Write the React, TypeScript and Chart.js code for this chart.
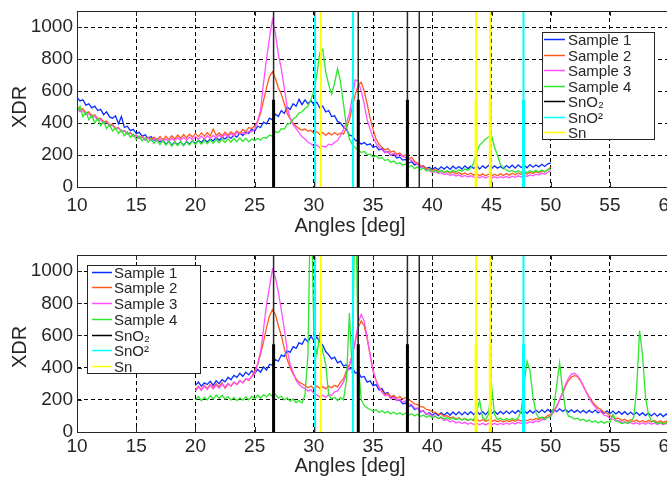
import React, { useEffect, useRef } from 'react';
import { Chart, registerables } from 'chart.js';
Chart.register(...registerables);

const FONT = '"Liberation Sans", Arial, Helvetica, sans-serif';
const TEXT = '#262626';

// ---------- Data: top panel (angles in degrees, XDR counts) ----------
const topAngles = [
  10, 10.25, 10.5, 10.75, 11, 11.25, 11.5, 11.75, 12, 12.25, 12.5, 12.75,
  13, 13.25, 13.5, 13.75, 14, 14.25, 14.5, 14.75, 15, 15.25, 15.5, 15.75,
  16, 16.25, 16.5, 16.75, 17, 17.25, 17.5, 17.75, 18, 18.25, 18.5, 18.75,
  19, 19.25, 19.5, 19.75, 20, 20.25, 20.5, 20.75, 21, 21.25, 21.5, 21.75,
  22, 22.25, 22.5, 22.75, 23, 23.25, 23.5, 23.75, 24, 24.25, 24.5, 24.75,
  25, 25.25, 25.5, 25.75, 26, 26.25, 26.5, 26.75, 27, 27.25, 27.5, 27.75,
  28, 28.25, 28.5, 28.75, 29, 29.25, 29.5, 29.75, 30, 30.25, 30.5, 30.75,
  31, 31.25, 31.5, 31.75, 32, 32.25, 32.5, 32.75, 33, 33.25, 33.5, 33.75,
  34, 34.25, 34.5, 34.75, 35, 35.25, 35.5, 35.75, 36, 36.25, 36.5, 36.75,
  37, 37.25, 37.5, 37.75, 38, 38.25, 38.5, 38.75, 39, 39.25, 39.5, 39.75,
  40, 40.25, 40.5, 40.75, 41, 41.25, 41.5, 41.75, 42, 42.25, 42.5, 42.75,
  43, 43.25, 43.5, 43.75, 44, 44.25, 44.5, 44.75, 45, 45.25, 45.5, 45.75,
  46, 46.25, 46.5, 46.75, 47, 47.25, 47.5, 47.75, 48, 48.25, 48.5, 48.75,
  49, 49.25, 49.5, 49.75, 50,
];

const sample1Top = [
  560, 538, 545, 512, 520, 495, 505, 478, 485, 452, 470, 438,
  430, 445, 395, 440, 372, 380, 352, 360, 335, 342, 318, 326,
  305, 315, 292, 300, 282, 292, 268, 285, 262, 280, 265, 282,
  260, 284, 268, 290, 272, 292, 278, 298, 282, 300, 288, 310,
  292, 312, 300, 318, 305, 325, 312, 338, 322, 345, 335, 362,
  350, 380, 372, 405, 395, 430, 420, 455, 440, 478, 460, 500,
  485, 520, 505, 548, 515, 545, 520, 540, 515, 530, 495, 505,
  470, 478, 440, 445, 410, 400, 375, 360, 325, 318, 292, 285,
  268, 278, 262, 270, 248, 255, 232, 240, 215, 222, 198, 205,
  182, 188, 168, 172, 150, 158, 138, 145, 125, 132, 115, 124,
  110, 122, 108, 126, 112, 128, 110, 130, 114, 128, 112, 132,
  115, 130, 116, 134, 112, 132, 118, 136, 114, 132, 118, 128,
  115, 134, 120, 136, 118, 138, 122, 136, 120, 140, 124, 138,
  126, 142, 128, 145, 150,
];

const sample2Top = [
  505, 480, 490, 462, 470, 445, 452, 425, 430, 405, 412, 388,
  392, 365, 372, 348, 352, 332, 340, 318, 325, 305, 318, 298,
  310, 295, 312, 292, 315, 295, 318, 298, 320, 300, 325, 305,
  328, 308, 330, 312, 335, 315, 338, 318, 340, 318, 362, 322,
  338, 320, 342, 325, 345, 328, 350, 335, 358, 345, 372, 365,
  380, 410, 460, 540, 620, 690, 720, 680, 620, 580, 520, 460,
  425, 400, 380, 365, 355, 362, 348, 355, 335, 345, 328, 340,
  322, 338, 325, 340, 325, 338, 330, 370, 420, 500, 580, 635,
  655, 600, 520, 430, 360, 300, 268, 248, 232, 240, 218, 225,
  205, 212, 192, 200, 178, 185, 160, 150, 135, 128, 118, 112,
  105, 110, 96, 104, 90, 98, 86, 94, 82, 90, 78, 88,
  76, 86, 74, 84, 72, 82, 70, 80, 68, 80, 70, 82,
  72, 84, 74, 86, 76, 88, 78, 90, 80, 92, 84, 96,
  88, 100, 94, 108, 125,
];

const sample3Top = [
  490, 470, 478, 452, 458, 435, 442, 418, 420, 398, 405, 380,
  385, 362, 368, 345, 350, 330, 338, 315, 322, 302, 312, 292,
  305, 288, 302, 285, 300, 284, 302, 286, 305, 288, 308, 292,
  310, 292, 312, 295, 315, 298, 318, 300, 320, 302, 322, 305,
  325, 308, 330, 312, 335, 318, 342, 330, 340, 332, 348, 345,
  360, 410, 480, 650, 800, 930, 1045, 960, 830, 740, 620, 500,
  430, 390, 365, 340, 315, 300, 280, 270, 255, 262, 245, 255,
  250, 268, 262, 280, 290, 320, 360, 400, 460, 560, 670, 660,
  600, 520, 420, 360, 310, 272, 250, 232, 215, 220, 200, 210,
  195, 205, 190, 185, 175, 165, 150, 142, 128, 118, 108, 100,
  92, 96, 84, 90, 78, 84, 72, 80, 68, 76, 64, 72,
  62, 70, 60, 68, 58, 66, 56, 64, 55, 64, 56, 65,
  58, 66, 58, 68, 60, 70, 62, 72, 66, 76, 70, 80,
  74, 86, 80, 92, 105,
];

const sample4Top = [
  470, 505, 440, 470, 420, 450, 400, 430, 385, 410, 365, 390,
  350, 372, 335, 355, 320, 345, 310, 330, 298, 318, 288, 308,
  280, 300, 272, 295, 265, 290, 262, 285, 255, 282, 258, 285,
  260, 282, 262, 288, 265, 290, 268, 292, 270, 295, 272, 298,
  275, 300, 278, 302, 280, 305, 282, 308, 285, 305, 282, 300,
  290, 305, 292, 310, 305, 325, 318, 345, 340, 365, 362, 392,
  400, 425, 438, 462, 470, 490, 505, 545, 600, 700, 840, 860,
  720, 640, 580, 650, 740, 660, 520, 380, 300, 265, 245, 232,
  215, 222, 200, 205, 188, 195, 178, 185, 165, 172, 155, 162,
  145, 152, 136, 144, 125, 134, 115, 126, 108, 120, 100, 112,
  94, 106, 92, 104, 90, 102, 92, 104, 94, 108, 98, 112,
  105, 118, 150, 215, 262, 280, 300, 312, 325, 250, 200, 140,
  120, 108, 96, 104, 92, 102, 90, 100, 90, 102, 92, 104,
  94, 106, 95, 108, 112,
];

// ---------- Data: bottom panel ----------
const bottomAngles = [
  20, 20.25, 20.5, 20.75, 21, 21.25, 21.5, 21.75, 22, 22.25, 22.5, 22.75,
  23, 23.25, 23.5, 23.75, 24, 24.25, 24.5, 24.75, 25, 25.25, 25.5, 25.75,
  26, 26.25, 26.5, 26.75, 27, 27.25, 27.5, 27.75, 28, 28.25, 28.5, 28.75,
  29, 29.25, 29.5, 29.75, 30, 30.25, 30.5, 30.75, 31, 31.25, 31.5, 31.75,
  32, 32.25, 32.5, 32.75, 33, 33.25, 33.5, 33.75, 34, 34.25, 34.5, 34.75,
  35, 35.25, 35.5, 35.75, 36, 36.25, 36.5, 36.75, 37, 37.25, 37.5, 37.75,
  38, 38.25, 38.5, 38.75, 39, 39.25, 39.5, 39.75, 40, 40.25, 40.5, 40.75,
  41, 41.25, 41.5, 41.75, 42, 42.25, 42.5, 42.75, 43, 43.25, 43.5, 43.75,
  44, 44.25, 44.5, 44.75, 45, 45.25, 45.5, 45.75, 46, 46.25, 46.5, 46.75,
  47, 47.25, 47.5, 47.75, 48, 48.25, 48.5, 48.75, 49, 49.25, 49.5, 49.75,
  50, 50.25, 50.5, 50.75, 51, 51.25, 51.5, 51.75, 52, 52.25, 52.5, 52.75,
  53, 53.25, 53.5, 53.75, 54, 54.25, 54.5, 54.75, 55, 55.25, 55.5, 55.75,
  56, 56.25, 56.5, 56.75, 57, 57.25, 57.5, 57.75, 58, 58.25, 58.5, 58.75,
  59, 59.25, 59.5, 59.75, 60, 60.25, 60.5, 60.75, 61,
];

const sample1Bottom = [
  290, 310, 285, 305, 295, 315, 290, 318, 300, 325, 312, 340,
  325, 352, 340, 365, 345, 372, 355, 380, 362, 390, 372, 405,
  385, 420, 415, 450, 440, 478, 470, 505, 495, 530, 520, 555,
  545, 580, 560, 595, 570, 590, 560, 540, 500, 480, 455, 465,
  430, 440, 410, 418, 390, 400, 365, 372, 340, 345, 310, 318,
  288, 295, 262, 270, 238, 245, 215, 222, 195, 200, 175, 180,
  158, 165, 140, 148, 125, 132, 110, 120, 104, 118, 102, 120,
  104, 122, 104, 124, 106, 125, 106, 124, 108, 126, 108, 128,
  110, 126, 108, 128, 112, 130, 110, 128, 112, 130, 114, 132,
  116, 134, 118, 132, 116, 134, 118, 136, 120, 138, 122, 140,
  124, 142, 126, 144, 128, 140, 124, 138, 122, 136, 120, 134,
  118, 134, 120, 136, 118, 132, 116, 132, 114, 130, 112, 128,
  110, 126, 108, 124, 106, 122, 104, 120, 102, 118, 100, 116,
  98, 114, 96, 112, 94, 110, 92, 108, 94,
];

const sample2Bottom = [
  265, 285, 262, 290, 270, 295, 275, 300, 280, 305, 272, 298,
  285, 310, 295, 318, 305, 330, 320, 345, 380, 420, 485, 560,
  650, 720, 760, 730, 660, 600, 520, 450, 400, 360, 330, 310,
  300, 290, 275, 285, 270, 285, 272, 282, 268, 285, 275, 290,
  280, 310, 330, 380, 420, 480, 560, 650, 690, 660, 580, 480,
  380, 320, 280, 255, 232, 240, 218, 228, 210, 220, 205, 215,
  200, 190, 175, 170, 158, 155, 140, 138, 125, 124, 110, 112,
  98, 102, 88, 94, 80, 88, 76, 84, 72, 80, 70, 78,
  68, 76, 66, 74, 64, 74, 64, 72, 62, 72, 64, 74,
  66, 76, 68, 78, 70, 80, 74, 84, 78, 90, 88, 102,
  110, 130, 160, 200, 240, 285, 320, 342, 350, 345, 320, 285,
  250, 218, 190, 168, 150, 140, 122, 118, 100, 96, 82, 86,
  72, 80, 66, 76, 64, 74, 62, 72, 60, 72, 62, 72,
  60, 70, 58, 68, 56, 68, 58, 68, 60,
];

const sample3Bottom = [
  255, 280, 260, 285, 265, 290, 268, 292, 272, 298, 278, 302,
  285, 310, 295, 320, 305, 330, 325, 345, 360, 420, 500, 640,
  790, 900, 1010, 960, 870, 760, 640, 510, 420, 370, 320, 295,
  280, 270, 255, 262, 240, 232, 218, 228, 215, 232, 228, 250,
  255, 280, 310, 360, 410, 480, 570, 680, 730, 690, 590, 480,
  380, 320, 275, 248, 225, 232, 205, 215, 195, 205, 185, 195,
  175, 170, 150, 148, 130, 130, 112, 114, 98, 100, 84, 88,
  72, 78, 62, 70, 56, 64, 52, 60, 48, 58, 46, 56,
  45, 55, 44, 54, 44, 54, 45, 55, 46, 56, 48, 58,
  50, 60, 52, 62, 54, 64, 58, 70, 64, 78, 76, 92,
  100, 122, 155, 200, 245, 295, 335, 358, 365, 352, 325, 285,
  245, 210, 180, 155, 135, 124, 105, 100, 84, 82, 68, 70,
  58, 64, 52, 60, 50, 58, 48, 58, 48, 58, 48, 56,
  46, 56, 45, 54, 44, 54, 44, 52, 46,
];

const sample4Bottom = [
  200, 220, 195, 215, 200, 225, 205, 230, 210, 228, 205, 220,
  198, 215, 195, 212, 198, 218, 200, 222, 205, 228, 210, 232,
  218, 238, 222, 235, 210, 222, 200, 212, 190, 205, 182, 195,
  180, 230, 480, 1600, 600, 480, 600, 500, 420, 230, 205, 215,
  195, 215, 200, 320, 740, 360, 1600, 420, 200, 165, 150, 140,
  130, 140, 122, 132, 118, 128, 112, 124, 110, 120, 106, 118,
  104, 114, 100, 110, 96, 106, 92, 102, 88, 98, 84, 94,
  80, 90, 78, 88, 76, 86, 74, 84, 72, 80, 75, 130,
  195, 90, 76, 110, 290, 110, 78, 86, 74, 84, 74, 84,
  76, 88, 130, 300, 440, 380, 220, 120, 86, 92, 80, 90,
  95, 150, 290, 430, 260, 140, 100, 92, 80, 86, 72, 80,
  66, 74, 60, 70, 56, 66, 54, 64, 60, 110, 70, 62,
  52, 60, 54, 64, 90, 260, 630, 480, 220, 110, 70, 64,
  52, 60, 50, 58, 46, 56, 46, 54, 48,
];

// ---------- Reference patterns (peak positions, stem heights) ----------
const snO2Angles = [26.6, 33.75, 37.9, 38.9];
const snO2Stems = [545, 545, 545, 0];
const snOAngles = [30.1, 33.3, 47.7];
const snOStems = [0, 0, 545];
const snAngles = [30.6, 43.7, 44.9];
const snStems = [0, 545, 545];

// ---------- Axes ----------
const X_MIN = 10;
const X_MAX = 61;
const Y_MIN = 0;
const Y_MAX = 1100;
const xTickValues = [10, 15, 20, 25, 30, 35, 40, 45, 50, 55, 60];
const yTickValues = [0, 200, 400, 600, 800, 1000];

const legendLabels = ['Sample 1', 'Sample 2', 'Sample 3', 'Sample 4', 'SnO\u2082', 'SnO\u00B2', 'Sn'];
const legendColors = ['#0a2cff', '#ff5a1e', '#ff50ff', '#2ee62e', '#000000', '#00ffff', '#ffff00'];

function pts(xs: number[], ys: number[]) {
  return xs.map((x, i) => ({ x, y: ys[i] }));
}

function vlines(angles: number[], heights: number[] | null) {
  const d: { x: number; y: number | null }[] = [];
  angles.forEach((a, i) => {
    const h = heights ? heights[i] : Y_MAX;
    if (h > 0) {
      d.push({ x: a, y: 0 }, { x: a, y: h }, { x: a, y: null });
    }
  });
  return d;
}

type Opts = {
  padTop: number;
  xAxisHeight: number;
  xTickPad: number;
  xTitle: [number, number];
  yTitle: [number, number];
  legend: { x: number; y: number; w: number; h: number; row0: number; step: number; l0: number; l1: number; tx: number };
};

function decor(o: Opts) {
  return {
    id: 'matlabDecor',
    afterDatasetsDraw(chart: any) {
      const { ctx, chartArea: a, scales } = chart;
      ctx.save();
      ctx.strokeStyle = TEXT;
      ctx.lineWidth = 1;
      ctx.setLineDash([]);
      ctx.beginPath();
      scales.x.ticks.forEach((t: any) => {
        const px = Math.round(scales.x.getPixelForValue(t.value)) + 0.5;
        ctx.moveTo(px, a.bottom);
        ctx.lineTo(px, a.bottom - 5);
        ctx.moveTo(px, a.top);
        ctx.lineTo(px, a.top + 5);
      });
      scales.y.ticks.forEach((t: any) => {
        const py = Math.round(scales.y.getPixelForValue(t.value)) + 0.5;
        ctx.moveTo(a.left, py);
        ctx.lineTo(a.left + 5, py);
      });
      ctx.stroke();
      ctx.strokeRect(Math.round(a.left) + 0.5, Math.round(a.top) + 0.5, Math.round(a.right - a.left), Math.round(a.bottom - a.top));

      // legend
      const L = o.legend;
      ctx.fillStyle = '#ffffff';
      ctx.fillRect(L.x, L.y, L.w, L.h);
      ctx.strokeStyle = TEXT;
      ctx.strokeRect(L.x + 0.5, L.y + 0.5, L.w, L.h);
      ctx.font = `15px ${FONT}`;
      ctx.textAlign = 'left';
      ctx.textBaseline = 'middle';
      legendLabels.forEach((lab, i) => {
        const y = Math.round(L.row0 + i * L.step) + 0.5;
        ctx.strokeStyle = legendColors[i];
        ctx.lineWidth = 1.5;
        ctx.beginPath();
        ctx.moveTo(L.l0, y);
        ctx.lineTo(L.l1, y);
        ctx.stroke();
        ctx.fillStyle = TEXT;
        ctx.fillText(lab, L.tx, y + 1);
      });

      // axis titles
      ctx.fillStyle = TEXT;
      ctx.font = `20px ${FONT}`;
      ctx.textAlign = 'center';
      ctx.textBaseline = 'middle';
      ctx.fillText('Angles [deg]', o.xTitle[0], o.xTitle[1]);
      ctx.save();
      ctx.translate(o.yTitle[0], o.yTitle[1]);
      ctx.rotate(-Math.PI / 2);
      ctx.fillText('XDR', 0, 0);
      ctx.restore();
      ctx.restore();
    },
  };
}

function buildConfig(angles: number[], s: number[][], o: Opts): any {
  const line = (label: string, data: any[], color: string, width: number, order: number) => ({
    label,
    data,
    borderColor: color,
    backgroundColor: color,
    borderWidth: width,
    pointRadius: 0,
    tension: 0,
    fill: false,
    spanGaps: false,
    order,
  });
  const datasets = [
    line('SnO2 stems', vlines(snO2Angles, snO2Stems), '#000000', 3, 0),
    line('SnO stems', vlines(snOAngles, snOStems), '#00ffff', 3, 0),
    line('Sn stems', vlines(snAngles, snStems), '#ffff00', 3, 0),
    line('SnO2', vlines(snO2Angles, null), '#2a2a2a', 1.5, 1),
    line('SnO', vlines(snOAngles, null), '#00ffff', 2, 1),
    line('Sn', vlines(snAngles, null), '#ffff00', 2, 1),
    line('Sample 4', pts(angles, s[3]), legendColors[3], 1.3, 2),
    line('Sample 3', pts(angles, s[2]), legendColors[2], 1.3, 3),
    line('Sample 2', pts(angles, s[1]), legendColors[1], 1.3, 4),
    line('Sample 1', pts(angles, s[0]), legendColors[0], 1.3, 5),
  ];
  const gridCommon = { color: '#000000', lineWidth: 1, drawTicks: false };
  const plain = (v: any) => String(v);
  return {
    type: 'line',
    data: { datasets },
    options: {
      animation: false,
      responsive: false,
      events: [],
      layout: { padding: { top: o.padTop, right: 19, left: 0, bottom: 0 } },
      plugins: { legend: { display: false }, tooltip: { enabled: false } },
      scales: {
        x: {
          type: 'linear',
          min: X_MIN,
          max: X_MAX,
          ticks: { padding: o.xTickPad, color: TEXT, font: { family: FONT, size: 19 }, maxRotation: 0, autoSkip: false, callback: plain },
          grid: gridCommon,
          border: { display: false, dash: [4, 3] },
          afterBuildTicks: (sc: any) => {
            sc.ticks = xTickValues.map((v) => ({ value: v }));
          },
          afterFit: (sc: any) => {
            sc.height = o.xAxisHeight;
            sc.paddingLeft = 0;
            sc.paddingRight = 0;
          },
        },
        y: {
          type: 'linear',
          min: Y_MIN,
          max: Y_MAX,
          ticks: { padding: 4, color: TEXT, font: { family: FONT, size: 19 }, autoSkip: false, callback: plain },
          grid: gridCommon,
          border: { display: false, dash: [4, 3] },
          afterBuildTicks: (sc: any) => {
            sc.ticks = yTickValues.map((v) => ({ value: v }));
          },
          afterFit: (sc: any) => {
            sc.width = 77;
            sc.paddingTop = 0;
            sc.paddingBottom = 0;
          },
        },
      },
    },
    plugins: [decor(o)],
  };
}

export default function App() {
  const topRef = useRef<HTMLCanvasElement>(null);
  const botRef = useRef<HTMLCanvasElement>(null);

  useEffect(() => {
    const c1 = new Chart(
      topRef.current as HTMLCanvasElement,
      buildConfig(topAngles, [sample1Top, sample2Top, sample3Top, sample4Top], {
        padTop: 11,
        xAxisHeight: 53,
        xTickPad: 7,
        xTitle: [350, 226],
        yTitle: [20, 107],
        legend: { x: 542, y: 32, w: 112, h: 107, row0: 39, step: 15.55, l0: 544, l1: 565, tx: 568 },
      })
    );
    const c2 = new Chart(
      botRef.current as HTMLCanvasElement,
      buildConfig(bottomAngles, [sample1Bottom, sample2Bottom, sample3Bottom, sample4Bottom], {
        padTop: 15,
        xAxisHeight: 48,
        xTickPad: 3.5,
        xTitle: [350, 226.5],
        yTitle: [20, 107],
        legend: { x: 87, y: 25, w: 113, h: 108, row0: 31.5, step: 15.75, l0: 92, l1: 112, tx: 114 },
      })
    );
    return () => {
      c1.destroy();
      c2.destroy();
    };
  }, []);

  return (
    <div style={{ position: 'absolute', left: 0, top: 0, width: 667, height: 480, overflow: 'hidden', background: '#ffffff' }}>
      <canvas ref={topRef} width={700} height={240} style={{ display: 'block', width: 700, height: 240 }} />
      <canvas ref={botRef} width={700} height={240} style={{ display: 'block', width: 700, height: 240 }} />
    </div>
  );
}
